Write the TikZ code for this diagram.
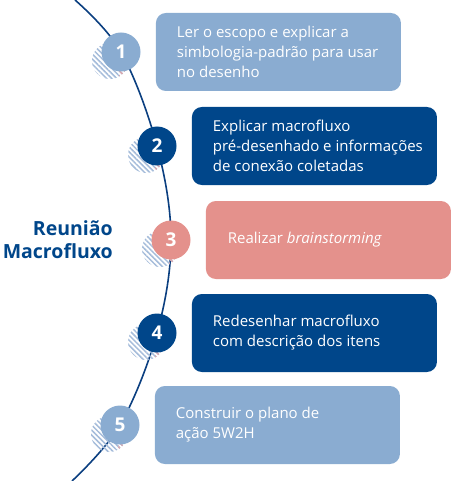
\documentclass[tikz,border=0pt]{standalone}
\usepackage{fontspec}
\setmainfont{Open Sans}
\usepackage{tikz}
\usetikzlibrary{positioning,patterns.meta}
\definecolor{lightblue}{HTML}{8AACD1}
\definecolor{darkblue}{HTML}{00468A}
\definecolor{rosy}{HTML}{E4918C}
\definecolor{spineblue}{HTML}{0B3F80}
\definecolor{hatchblue}{HTML}{A5BCDA}
\definecolor{hatchpink}{HTML}{D9A9B0}
\tikzset{numdisc/.style={circle,minimum size=39pt,inner sep=0pt,text=white,font=\fontsize{19}{19}\selectfont\bfseries},
         stepbox/.style={rectangle,rounded corners=10pt,minimum width=245pt,minimum height=78pt,inner sep=0pt},
         boxtext/.style={text=white,align=left,inner sep=0pt,font=\fontsize{15}{20}\selectfont},
         hatch/.style={pattern={Lines[angle=-45,distance=3.6pt,line width=1.5pt]},pattern color=hatchblue}}
\newcommand{\shadowdisc}[1]{%
  \fill[hatch] ([shift={(-11,9)}]#1) circle (18pt);
  \begin{scope}
    \clip ([shift={(-11,9)}]#1) circle (18pt);
    \fill[hatch,pattern color=hatchpink] ([shift={(-2,10)}]#1) rectangle ++(20,20);
  \end{scope}}

\begin{document}
\begin{tikzpicture}[x=1pt,y=-1pt]
                   \useasboundingbox (0,0) rectangle (451,481);
                   \coordinate (top) at (75,0);
                   \coordinate (p1) at (121,52);
                   \coordinate (p2) at (157,146);
                   \coordinate (p3) at (171,240);
                   \coordinate (p4) at (157,333);
                   \coordinate (p5) at (120,425);
                   \coordinate (bottom) at (72,481);
                   \draw[spineblue,line width=1.6pt] plot[smooth,tension=0.6] coordinates {(top) (p1) (p2) (p3) (p4) (p5) (bottom)};
                   \shadowdisc{p1}
                   \shadowdisc{p2}
                   \shadowdisc{p3}
                   \shadowdisc{p4}
                   \shadowdisc{p5}
                   \node[numdisc,fill=lightblue] (n1) at (p1) {1};
                   \node[numdisc,fill=darkblue] (n2) at (p2) {2};
                   \node[numdisc,fill=rosy] (n3) at (p3) {3};
                   \node[numdisc,fill=darkblue] (n4) at (p4) {4};
                   \node[numdisc,fill=lightblue] (n5) at (p5) {5};
                   \node[stepbox,fill=lightblue] (b1) [right=15pt of n1] {};
                   \node[stepbox,fill=darkblue] (b2) [right=15pt of n2] {};
                   \node[stepbox,fill=rosy] (b3) [right=15pt of n3] {};
                   \node[stepbox,fill=darkblue] (b4) [right=15pt of n4] {};
                   \node[stepbox,fill=lightblue] (b5) [right=15pt of n5] {};
                   \node[boxtext] (t1) [right=21pt of b1.west] {Ler o escopo e explicar a\\simbologia-padrão para usar\\no desenho};
                   \node[boxtext] (t2) [right=21pt of b2.west] {Explicar macrofluxo\\pré-desenhado e informações\\de conexão coletadas};
                   \node[boxtext] (t3) [right=22pt of b3.west] {Realizar \textit{brainstorming}};
                   \node[boxtext] (t4) [right=21pt of b4.west] {Redesenhar macrofluxo\\com descrição dos itens};
                   \node[boxtext] (t5) [right=21pt of b5.west] {Construir o plano de\\ação 5W2H};
                   \node[align=right,inner sep=0pt,text=darkblue,font=\fontsize{19.5}{23}\selectfont\bfseries,anchor=east] (title) at (113,240) {Reunião\\Macrofluxo};
                \end{tikzpicture}
\end{document}
